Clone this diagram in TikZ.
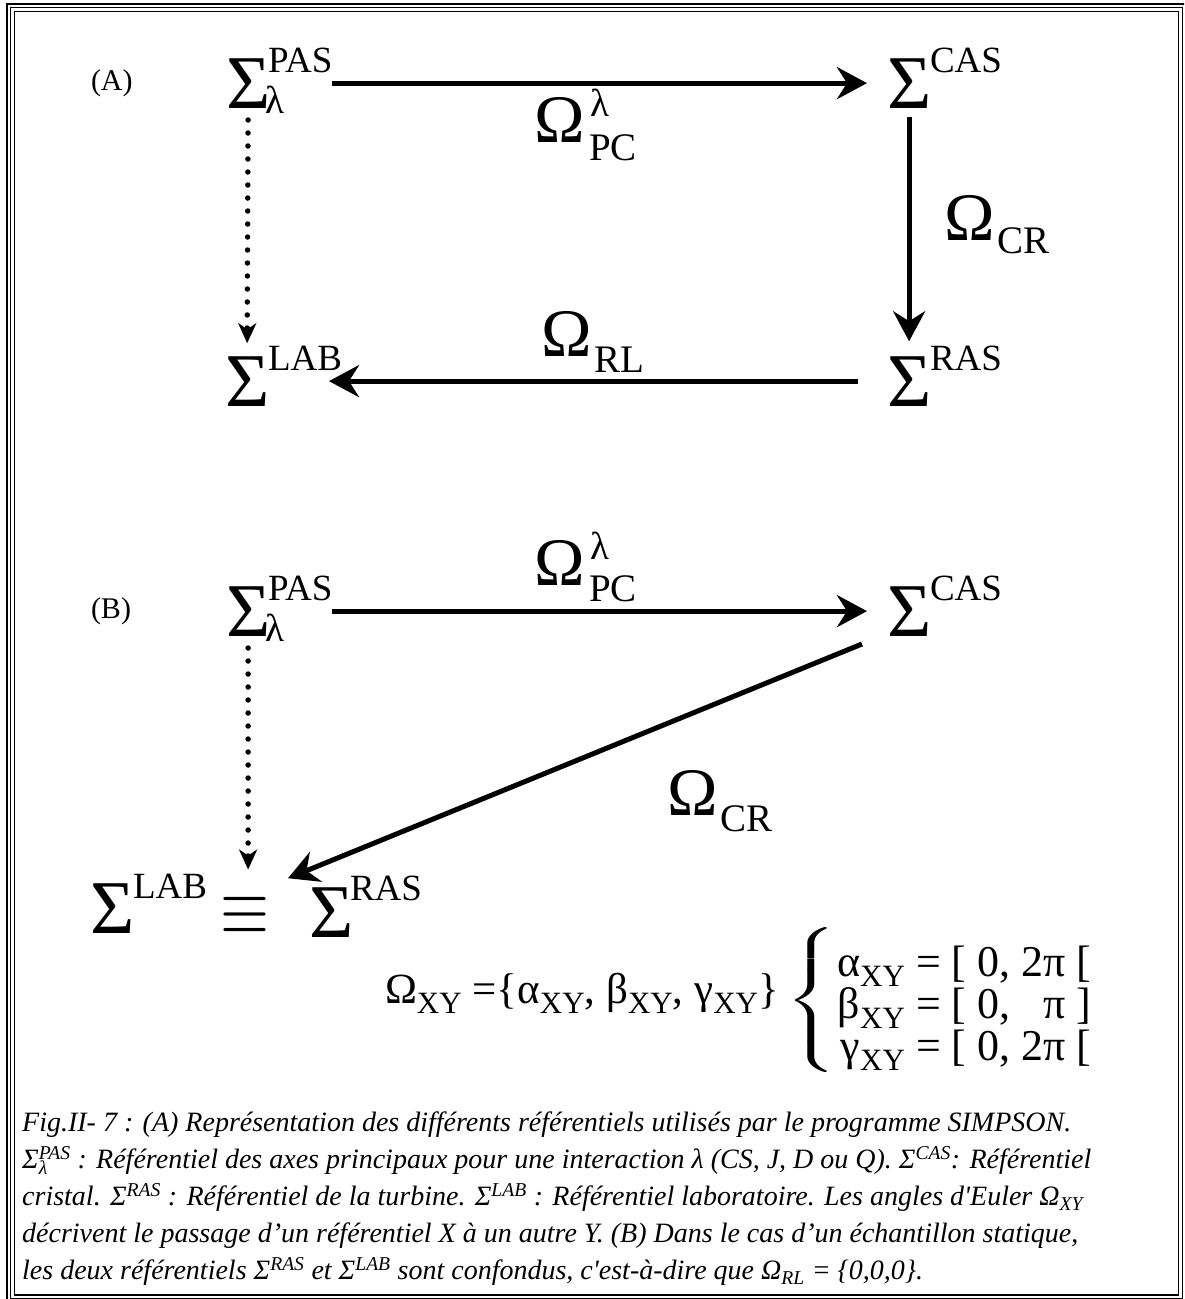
\documentclass[tikz,border=0pt]{standalone}
\usepackage{fontspec}
\setmainfont{Liberation Serif}
\newfontfamily\capfont{Liberation Serif}
\usetikzlibrary{arrows.meta}
\newcommand{\fsz}[1]{\fontsize{#1}{#1}\selectfont}
\newcommand{\subXY}{\raisebox{-10pt}{\fsz{31}XY}}
\begin{document}
\begin{tikzpicture}[x=1pt,y=-1pt,
  txt/.style={inner sep=0pt, outer sep=0pt, anchor=base west},
  big/.style={txt, font=\fsz{76}},
  omg/.style={txt, font=\fsz{68}},
  supt/.style={txt, font=\fsz{37}},
  subo/.style={txt, font=\fsz{39}},
  conn/.style={line width=5pt, -{Stealth[length=30pt,width=32pt,inset=10pt]}},
  dotconn/.style={line width=5.5pt, line cap=round, dash pattern=on 0pt off 13pt, -{Stealth[length=20pt,width=18pt,inset=6pt]}},
  eqs/.style={txt, font=\fsz{44}}]
\useasboundingbox (0,0) rectangle (1184,1299);
\clip (0,0) rectangle (1184,1299);
% triple border
\draw[line width=2.2pt] (7,4) rectangle (1186,1302);
\draw[line width=1.4pt] (10.7,7.4) rectangle (1182.3,1298.6);
\draw[line width=1.4pt] (14.7,11.7) rectangle (1178.2,1295);

% ---------- (A) ----------
\node[txt, font=\fsz{30}] (labA) at (91,90) {(A)};
\node[big] (sPASa) at (226,108) {Σ};
\node[supt] (pPASa) at (268,72) {PAS};
\node[subo] (lPASa) at (265,113) {λ};
\node[big] (sCASa) at (887,108) {Σ};
\node[supt] (pCASa) at (930,72) {CAS};
\node[big] (sLABa) at (225,406) {Σ};
\node[supt] (pLABa) at (268,370) {LAB};
\node[big] (sRASa) at (887,406) {Σ};
\node[supt] (pRASa) at (930,370) {RAS};

\node[omg] (oPCa) at (534,142) {Ω};
\node[subo] (oPCaS) at (590,116) {λ};
\node[subo] (oPCaB) at (589,160) {PC};
\node[omg] (oCRa) at (944,240) {Ω};
\node[subo] (oCRaB) at (997,253) {CR};
\node[omg] (oRLa) at (541,356) {Ω};
\node[subo] (oRLaB) at (594,372) {RL};

\draw[conn, shorten >=20pt] (sCASa.west -| pPASa.east) -- (sCASa.west);
\draw[conn, shorten <=9pt, shorten >=15pt] (sCASa.south) -- (sRASa.north);
\draw[conn, shorten <=29pt, shorten >=-13pt] (sRASa.west) -- (sRASa.west -| pLABa.east);
\draw[dotconn, shorten <=12pt, shorten >=13pt] (sPASa.south) -- (sLABa.north);

% ---------- (B) ----------
\node[txt, font=\fsz{30}] (labB) at (91,618) {(B)};
\node[big] (sPASb) at (226,636) {Σ};
\node[supt] (pPASb) at (268,600) {PAS};
\node[subo] (lPASb) at (265,641) {λ};
\node[big] (sCASb) at (887,636) {Σ};
\node[supt] (pCASb) at (930,600) {CAS};
\node[big] (sLABb) at (90,933) {Σ};
\node[supt] (pLABb) at (133,898) {LAB};
\node[inner sep=0pt, xscale=6.3, yscale=8] (eqv) at (244.5,916) {$\equiv$};
\node[big] (sRASb) at (309,937) {Σ};
\node[supt] (pRASb) at (350,900) {RAS};

\node[omg] (oPCb) at (534,585) {Ω};
\node[subo] (oPCbS) at (590,559) {λ};
\node[subo] (oPCbB) at (589,601) {PC};
\node[omg] (oCRb) at (667,815) {Ω};
\node[subo] (oCRbB) at (720,831) {CR};

\draw[conn, shorten >=20pt] (sCASb.west -| pPASb.east) -- (sCASb.west);
\draw[conn] ([xshift=-25pt,yshift=-8pt]sCASb.south west) -- ([xshift=-21pt,yshift=9pt]sRASb.north west);
\draw[dotconn, shorten <=12pt, shorten >=4pt] (sPASb.south) -- (sPASb.south |- pLABb.north);

% formula
\node[eqs, font=\fsz{43}] (omXY) at (385,1003) {Ω\subXY\ =\{α\subXY, β\subXY, γ\subXY\}};
\node[inner sep=0pt, xscale=5.8, yscale=3.45] (brace) at (815,1003) {$\left\{\vrule height 20pt depth 20pt width 0pt\right.$};
\node[eqs] (eqAl) at (837,976) {\makebox[68pt][r]{α\subXY} = [ 0, 2π [};
\node[eqs] (eqBe) at (837,1018) {\makebox[68pt][r]{β\subXY} = [ 0, \hphantom{2}π ]};
\node[eqs] (eqGa) at (837,1060) {\makebox[68pt][r]{γ\subXY} = [ 0, 2π [};

% caption
\node[inner sep=0pt, anchor=north west, align=left,
      font=\capfont\itshape\fontsize{28}{37}\selectfont] (cap) at (22,1112)
 {Fig.II- 7 : (A) Représentation des différents référentiels utilisés par le programme SIMPSON.\\
  Σ\rlap{\textsubscript{λ}}\textsuperscript{PAS} : Référentiel des axes principaux pour une interaction λ (CS, J, D ou Q). Σ\textsuperscript{CAS}: Référentiel\\
  cristal. Σ\textsuperscript{RAS} : Référentiel de la turbine. Σ\textsuperscript{LAB} : Référentiel laboratoire. Les angles d'Euler Ω\textsubscript{XY}\\
  décrivent le passage d’un référentiel X à un autre Y. (B) Dans le cas d’un échantillon statique,\\
  les deux référentiels Σ\textsuperscript{RAS} et Σ\textsuperscript{LAB} sont confondus, c'est-à-dire que Ω\textsubscript{RL} = \{0,0,0\}.};
\end{tikzpicture}
\end{document}
